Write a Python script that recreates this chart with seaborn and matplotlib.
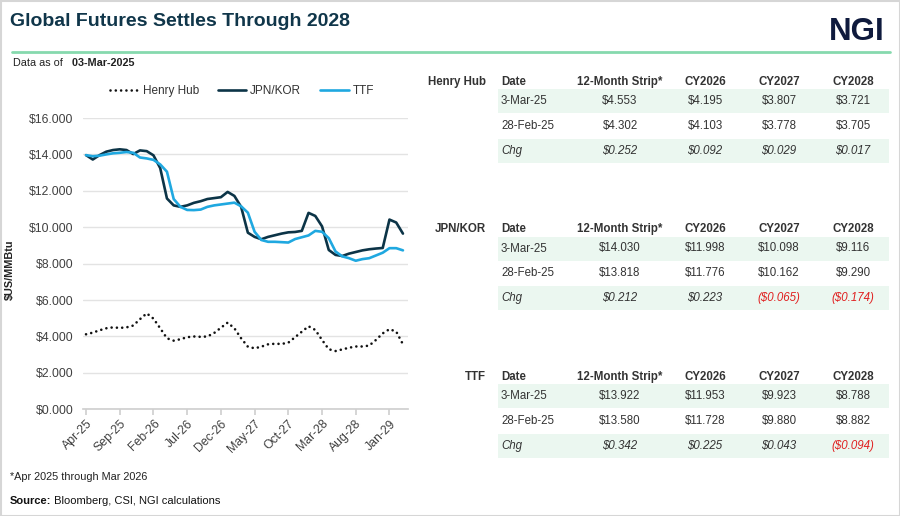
import pandas as pd
import matplotlib
matplotlib.use("Agg")
import matplotlib.pyplot as plt
import seaborn as sns
from matplotlib.patches import Rectangle
from matplotlib.lines import Line2D

# monthly settles, Apr-25 .. Mar-29
months = pd.date_range("2025-04-01", "2029-03-01", freq="MS")
month_labels = [d.strftime("%b-%y") for d in months]

henry_hub = [4.12, 4.21, 4.34, 4.45, 4.50, 4.47, 4.50, 4.60, 4.95, 5.27, 4.98, 4.45,
             3.90, 3.77, 3.85, 3.96, 4.00, 3.98, 4.00, 4.19, 4.48, 4.76, 4.45, 3.90,
             3.44, 3.35, 3.44, 3.57, 3.60, 3.59, 3.66, 3.96, 4.26, 4.56, 4.36, 3.81,
             3.30, 3.20, 3.29, 3.38, 3.45, 3.45, 3.50, 3.81, 4.17, 4.40, 4.27, 3.57]
jpn_kor = [13.96, 13.72, 13.96, 14.15, 14.24, 14.28, 14.24, 14.02, 14.22, 14.18, 13.95, 13.25,
           11.58, 11.20, 11.12, 11.20, 11.34, 11.43, 11.55, 11.60, 11.65, 11.94, 11.72, 11.12,
           9.70, 9.47, 9.34, 9.47, 9.56, 9.65, 9.72, 9.74, 9.80, 10.79, 10.62, 10.05,
           8.75, 8.48, 8.42, 8.55, 8.64, 8.73, 8.79, 8.83, 8.86, 10.42, 10.26, 9.65]
ttf = [13.96, 13.90, 13.93, 14.00, 14.06, 14.09, 14.13, 14.09, 13.83, 13.78, 13.70, 13.45,
       13.05, 11.55, 11.12, 10.95, 10.94, 10.97, 11.12, 11.20, 11.25, 11.30, 11.35, 11.15,
       10.80, 9.75, 9.30, 9.20, 9.20, 9.18, 9.16, 9.35, 9.45, 9.55, 9.80, 9.75,
       9.40, 8.67, 8.40, 8.30, 8.16, 8.25, 8.30, 8.45, 8.60, 8.85, 8.85, 8.73]

# settle tables
table_columns = ["Date", "12-Month Strip*", "CY2026", "CY2027", "CY2028"]
row_dates = ["3-Mar-25", "28-Feb-25", "Chg"]
hh_current = [4.553, 4.195, 3.807, 3.721]
hh_prior = [4.302, 4.103, 3.778, 3.705]
hh_chg = [0.252, 0.092, 0.029, 0.017]
jk_current = [14.030, 11.998, 10.098, 9.116]
jk_prior = [13.818, 11.776, 10.162, 9.290]
jk_chg = [0.212, 0.223, -0.065, -0.174]
ttf_current = [13.922, 11.953, 9.923, 8.788]
ttf_prior = [13.580, 11.728, 9.880, 8.882]
ttf_chg = [0.342, 0.225, 0.043, -0.094]

HH_COLOR = "#111111"
JK_COLOR = "#0c3447"
TTF_COLOR = "#1fa8e0"
TEXT = "#333333"
BAND = "#ebf7f0"

sns.set_theme(style="white")
plt.rcParams["font.family"] = ["Liberation Sans", "DejaVu Sans"]

fig = plt.figure(figsize=(9, 5.16), dpi=100)

# full-figure layer in pixel coords for header, tables and notes
bg = fig.add_axes([0, 0, 1, 1])
bg.set_xlim(0, 900)
bg.set_ylim(516, 0)
bg.axis("off")
bg.add_patch(Rectangle((0.5, 0.5), 899, 515, fill=False, ec="#d6d6d6", lw=1.5))

bg.text(10, 21.5, "Global Futures Settles Through 2028", fontsize=14,
        weight="bold", color="#10364a", va="center", ha="left")
bg.text(885, 32, "NGI", fontsize=22.5, weight="bold", color="#0f1a3d",
        va="center", ha="right")
bg.plot([12, 890], [51.7, 51.7], color="#86d9ae", lw=2)

t = bg.text(13, 62.7, "Data as of ", fontsize=7.8, color="#222222", va="center")
bg.annotate("  03-Mar-2025", xy=(1, 0.5), xycoords=t, fontsize=7.8,
            weight="bold", color="#222222", va="center")

bg.text(10, 477, "*Apr 2025 through Mar 2026", fontsize=7.8, color="#222222",
        va="center")
s = bg.text(10, 500.5, "Source:", fontsize=8, weight="bold", color="#111111",
            va="center")
bg.annotate(" Bloomberg, CSI, NGI calculations", xy=(1, 0.5), xycoords=s,
            fontsize=8, color="#111111", va="center")


def fmt(v):
    if v < 0:
        return f"(${-v:.3f})"
    return f"${v:.3f}"


col_x = [501, 620, 705, 779, 853]


def draw_table(top, hub, current, prior, chg):
    bg.add_patch(Rectangle((498, top + 7.5), 391, 24, color=BAND, lw=0))
    bg.add_patch(Rectangle((498, top + 57), 391, 24, color=BAND, lw=0))
    bg.text(486, top, hub, fontsize=8.3, weight="bold", color=TEXT,
            ha="right", va="center")
    for i, c in enumerate(table_columns):
        bg.text(col_x[i], top, c, fontsize=8.3, weight="bold", color=TEXT,
                ha="left" if i == 0 else "center", va="center")
    rows = [current, prior, chg]
    offsets = [19.5, 44, 69]
    for r, (label, vals) in enumerate(zip(row_dates, rows)):
        y = top + offsets[r]
        italic = "italic" if r == 2 else "normal"
        bg.text(col_x[0], y, label, fontsize=8.3, color=TEXT, style=italic,
                ha="left", va="center")
        for j, v in enumerate(vals):
            color = "#e02020" if (r == 2 and v < 0) else TEXT
            bg.text(col_x[j + 1], y, fmt(v), fontsize=8.3, color=color,
                    style=italic, ha="center", va="center")


draw_table(81.7, "Henry Hub", hh_current, hh_prior, hh_chg)
draw_table(229, "JPN/KOR", jk_current, jk_prior, jk_chg)
draw_table(376.7, "TTF", ttf_current, ttf_prior, ttf_chg)

# line chart
df = pd.DataFrame({"idx": range(len(months)), "Henry Hub": henry_hub,
                   "JPN/KOR": jpn_kor, "TTF": ttf})

ax = fig.add_axes([83 / 900, 1 - 409.3 / 516, 325 / 900, 291.3 / 516])
sns.lineplot(data=df, x="idx", y="Henry Hub", ax=ax, color=HH_COLOR, lw=1.9,
             linestyle=(0, (0.01, 2.0)), dash_capstyle="round")
sns.lineplot(data=df, x="idx", y="JPN/KOR", ax=ax, color=JK_COLOR, lw=1.9)
sns.lineplot(data=df, x="idx", y="TTF", ax=ax, color=TTF_COLOR, lw=1.9)

ax.set_xlim(-0.45, 47.75)
ax.set_ylim(0, 16)
ax.set_yticks(range(0, 17, 2))
ax.set_yticklabels([f"${v:.3f}" for v in range(0, 17, 2)])
ax.set_xticks(range(0, len(months), 5))
ax.set_xticklabels(month_labels[::5], rotation=45, ha="right",
                   rotation_mode="anchor")
ax.grid(axis="y", color="#e3e3e3", lw=1)
ax.set_axisbelow(True)
for side in ["top", "right", "left"]:
    ax.spines[side].set_visible(False)
ax.spines["bottom"].set_color("#d0d0d0")
ax.tick_params(axis="y", length=0, pad=7, labelsize=8.8, labelcolor="#404040")
ax.tick_params(axis="x", length=4, color="#d0d0d0", pad=2, labelsize=8.8,
               labelcolor="#404040", bottom=True)
ax.set_xlabel("")
ax.set_ylabel("$US/MMBtu", fontsize=7.8, weight="bold", color="#222222")
ax.yaxis.set_label_coords(-0.209, 0.48)

handles = [
    Line2D([], [], color=HH_COLOR, lw=1.9, linestyle=(0, (0.01, 2.0)),
           dash_capstyle="round"),
    Line2D([], [], color=JK_COLOR, lw=1.9),
    Line2D([], [], color=TTF_COLOR, lw=1.9),
]
ax.legend(handles, ["Henry Hub", "JPN/KOR", "TTF"], loc="center",
          bbox_to_anchor=(0.49, 1.093), ncol=3, frameon=False, fontsize=8.5,
          handlelength=2.4, handletextpad=0.35, columnspacing=1.6,
          labelcolor="#333333")

fig.savefig("out.png", dpi=100)
